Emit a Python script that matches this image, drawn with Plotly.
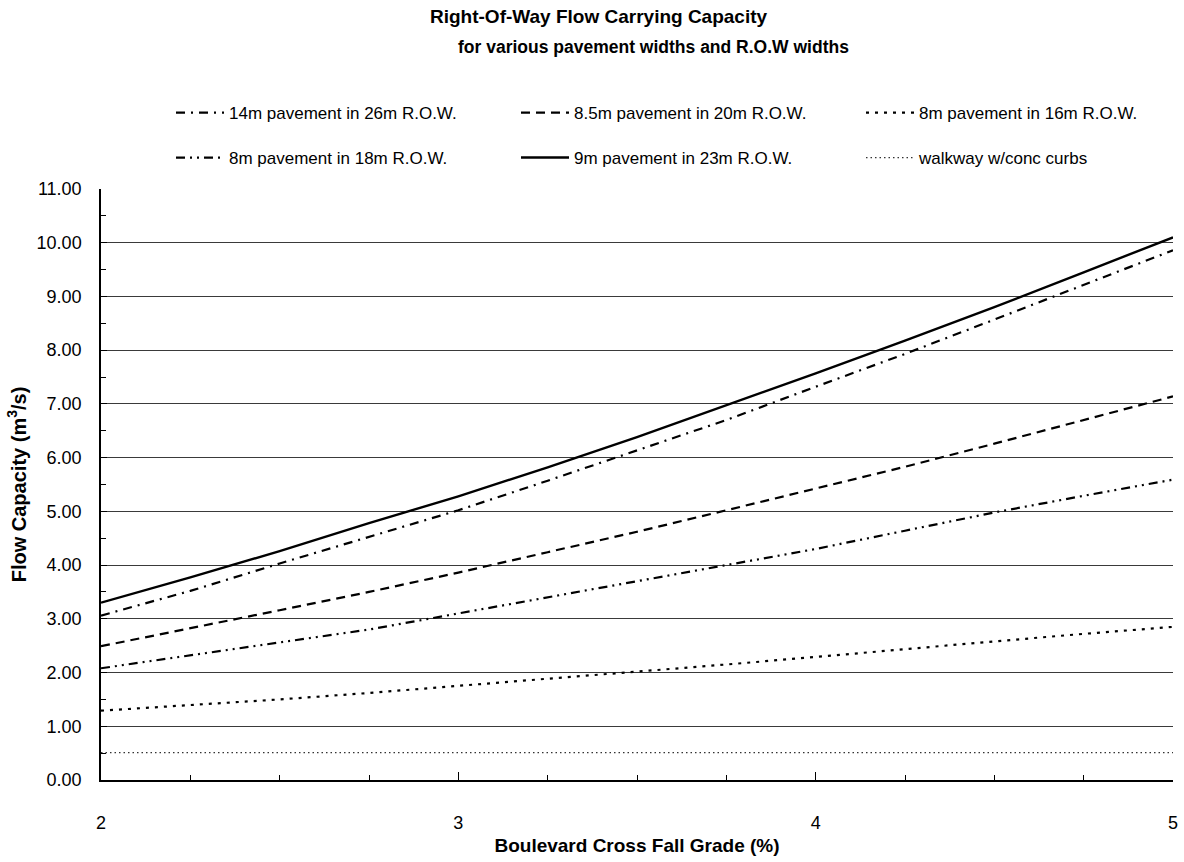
import plotly.graph_objects as go

# ---- data ----
grade = [2.0, 2.25, 2.5, 2.75, 3.0, 3.25, 3.5, 3.75, 4.0, 4.25, 4.5, 4.75, 5.0]

pave14_row26 = [3.06, 3.52, 4.03, 4.52, 5.02, 5.57, 6.14, 6.70, 7.32, 7.93, 8.57, 9.22, 9.86]
pave85_row20 = [2.49, 2.82, 3.16, 3.50, 3.86, 4.24, 4.62, 5.02, 5.42, 5.83, 6.26, 6.70, 7.14]
pave8_row16 = [1.29, 1.39, 1.50, 1.62, 1.75, 1.88, 2.01, 2.15, 2.29, 2.44, 2.58, 2.72, 2.85]
pave8_row18 = [2.08, 2.32, 2.55, 2.80, 3.10, 3.40, 3.70, 4.01, 4.30, 4.64, 4.98, 5.29, 5.59]
pave9_row23 = [3.30, 3.77, 4.26, 4.78, 5.28, 5.82, 6.38, 6.97, 7.57, 8.18, 8.80, 9.45, 10.10]
walkway = [0.51, 0.51, 0.51, 0.51, 0.51, 0.51, 0.51, 0.51, 0.51, 0.51, 0.51, 0.51, 0.51]

names = [
    "14m pavement in 26m R.O.W.",
    "8.5m pavement in 20m R.O.W.",
    "8m pavement in 16m R.O.W.",
    "8m pavement in 18m R.O.W.",
    "9m pavement in 23m R.O.W.",
    "walkway w/conc curbs",
]

title_line1 = "Right-Of-Way Flow Carrying Capacity"
title_line2 = "for various pavement widths and R.O.W widths"
x_title = "Boulevard Cross Fall Grade (%)"
y_title = "Flow Capacity (m<sup>3</sup>/s)"

FONT = "Liberation Sans, Arial, sans-serif"

W, H = 1184, 862
L, R, T, B = 101, 11, 189, 82
pw, ph = W - L - R, H - T - B


def px_x(p):
    return (p - L) / pw


def px_y(p):
    return (H - B - p) / ph


# legend slots: (legend id, left px, centre y px)
slots = [
    ("legend", 171, 113),
    ("legend2", 516, 113),
    ("legend3", 861, 113),
    ("legend4", 171, 158),
    ("legend5", 516, 158),
    ("legend6", 861, 158),
]

styles = [
    (pave14_row26, "9px,6px,2px,6px", 2.2, "black"),
    (pave85_row20, "9px,6px", 2.2, "black"),
    (pave8_row16, "3px,6px", 2.2, "black"),
    (pave8_row18, "9px,5px,2px,5px,2px,5px", 2.2, "black"),
    (pave9_row23, "solid", 2.4, "black"),
    (walkway, "1.5px,3px", 1.2, "#333333"),
]

fig = go.Figure()
for (vals, dash, w, col), nm, (lg, _, _) in zip(styles, names, slots):
    fig.add_trace(go.Scatter(
        x=grade, y=vals, name=nm, mode="lines",
        line=dict(color=col, width=w, dash=dash),
        legend=lg,
    ))

legend_layout = {}
for lg, lx, ly in slots:
    legend_layout[lg] = dict(
        x=px_x(lx), y=px_y(ly),
        xanchor="left", yanchor="middle",
        orientation="v",
        font=dict(family=FONT, size=17, color="black"),
        itemwidth=48,
        bgcolor="rgba(0,0,0,0)",
    )

fig.update_layout(
    width=W, height=H,
    margin=dict(l=L, r=R, t=T, b=B, autoexpand=False),
    paper_bgcolor="white", plot_bgcolor="white",
    font=dict(family=FONT, size=18, color="black"),
    showlegend=True,
    annotations=[
        dict(text=f"<b>{title_line1}</b>", x=px_x(599), y=px_y(17), xref="paper", yref="paper",
             showarrow=False, xanchor="center", yanchor="middle",
             font=dict(family=FONT, size=19, color="black")),
        dict(text=f"<b>{title_line2}</b>", x=px_x(653), y=px_y(47), xref="paper", yref="paper",
             showarrow=False, xanchor="center", yanchor="middle",
             font=dict(family=FONT, size=17.5, color="black")),
    ],
    **legend_layout,
)

fig.update_xaxes(
    range=[2, 5], dtick=1, tick0=2,
    showgrid=False, zeroline=False, automargin=False,
    showline=True, linecolor="black", linewidth=1.5,
    ticks="inside", ticklen=8, tickwidth=1.2, tickcolor="black",
    ticklabelstandoff=26,
    tickfont=dict(family=FONT, size=18, color="black"),
    minor=dict(dtick=0.25, ticks="inside", ticklen=5, tickwidth=1, tickcolor="black", showgrid=False),
    title=dict(text=f"<b>{x_title}</b>", font=dict(family=FONT, size=19, color="black"), standoff=6),
)

fig.update_yaxes(
    range=[0, 11], dtick=1, tick0=0, tickformat=".2f",
    showgrid=True, gridcolor="#3a3a3a", gridwidth=1.4,
    zeroline=False, automargin=False,
    showline=True, linecolor="black", linewidth=1.5,
    ticks="inside", ticklen=6, tickwidth=1.2, tickcolor="black",
    ticklabelstandoff=14,
    tickfont=dict(family=FONT, size=18, color="black"),
    minor=dict(dtick=0.5, ticks="inside", ticklen=5, tickwidth=1, tickcolor="black", showgrid=False),
    title=dict(text=f"<b>{y_title}</b>", font=dict(family=FONT, size=20, color="black"), standoff=5),
)

fig.write_html("out.html", config={"displayModeBar": False},
               post_script="document.body.style.margin='0';")
